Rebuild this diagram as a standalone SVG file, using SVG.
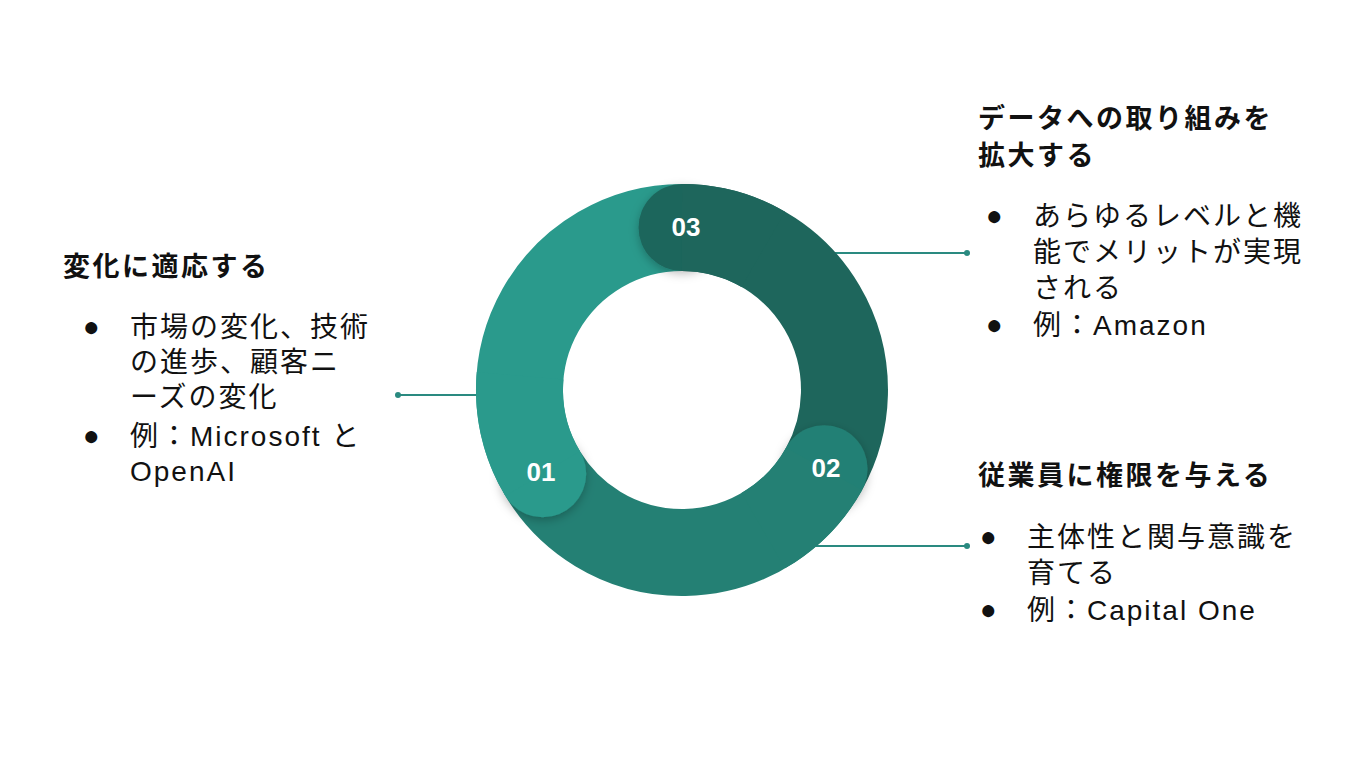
<svg xmlns="http://www.w3.org/2000/svg" width="1365" height="768" viewBox="0 0 1365 768">
<defs>
<filter id="sh" x="-50%" y="-50%" width="200%" height="200%"><feDropShadow dx="0" dy="3" stdDeviation="5" flood-color="#000" flood-opacity="0.25"/></filter>
<style>
.t{font-family:"Liberation Sans","Noto Sans CJK JP",sans-serif;fill:#111}
.h{font-size:27px;font-weight:bold;letter-spacing:2.5px}
.b{font-size:28px;letter-spacing:2px}
.n{font-family:"Liberation Sans",sans-serif;font-size:26px;font-weight:bold;fill:#fff;text-anchor:middle}
.c{stroke:#2a8a80;stroke-width:2;fill:none}
</style>
</defs>
<rect width="1365" height="768" fill="#fff"/>
<g id="connectors">
<line class="c" x1="398" y1="395" x2="480" y2="395"/><circle cx="398" cy="395" r="3" fill="#2a8a80"/>
<line class="c" x1="835" y1="253" x2="967" y2="253"/><circle cx="967" cy="253" r="3" fill="#2a8a80"/>
<line class="c" x1="815" y1="546" x2="967" y2="546"/><circle cx="967" cy="546" r="3" fill="#2a8a80"/>
</g>
<g id="ring">
<path d="M542.7 473.7 A162.5 162.5 0 0 1 682 227.5" stroke="#2a9a8c" stroke-width="87" fill="none"/>
<path d="M682 227.5 A162.5 162.5 0 0 1 824.1 468.8" stroke="#1e665c" stroke-width="87" fill="none"/>
<path d="M824.1 468.8 A162.5 162.5 0 0 1 542.7 473.7" stroke="#248074" stroke-width="87" fill="none"/>
<circle cx="682" cy="227.5" r="43.5" fill="#1e665c" filter="url(#sh)"/>
<circle cx="824.1" cy="468.8" r="43.5" fill="#248074" filter="url(#sh)"/>
<circle cx="542.7" cy="473.7" r="43.5" fill="#2a9a8c" filter="url(#sh)"/>
<path d="M682 227.5 A162.5 162.5 0 0 1 763.25 249.3" stroke="#1e665c" stroke-width="87" fill="none"/>
<path d="M824.1 468.8 A162.5 162.5 0 0 1 763.25 530.7" stroke="#248074" stroke-width="87" fill="none"/>
<path d="M542.7 473.7 A162.5 162.5 0 0 1 520.1 375.8" stroke="#2a9a8c" stroke-width="87" fill="none"/>
<text class="n" x="686" y="236">03</text>
<text class="n" x="826" y="477">02</text>
<text class="n" x="541" y="481">01</text>
</g>
<g id="node1" class="t">
<text class="h" x="63" y="276">変化に適応する</text>
<text class="b" x="83" y="336">●</text>
<text class="b" x="130" y="337">市場の変化、技術</text>
<text class="b" x="130" y="372">の進歩、顧客ニ</text>
<text class="b" x="130" y="407">ーズの変化</text>
<text class="b" x="83" y="445">●</text>
<text class="b" x="130" y="446">例：Microsoft と</text>
<text class="b" x="130" y="481">OpenAI</text>
</g>
<g id="node3" class="t">
<text class="h" x="978" y="128">データへの取り組みを</text>
<text class="h" x="978" y="165">拡大する</text>
<text class="b" x="986" y="225">●</text>
<text class="b" x="1033" y="226">あらゆるレベルと機</text>
<text class="b" x="1033" y="262">能でメリットが実現</text>
<text class="b" x="1033" y="298">される</text>
<text class="b" x="986" y="334">●</text>
<text class="b" x="1033" y="335">例：Amazon</text>
</g>
<g id="node2" class="t">
<text class="h" x="978" y="485">従業員に権限を与える</text>
<text class="b" x="980" y="546">●</text>
<text class="b" x="1027" y="547">主体性と関与意識を</text>
<text class="b" x="1027" y="583">育てる</text>
<text class="b" x="980" y="619">●</text>
<text class="b" x="1027" y="620">例：Capital One</text>
</g>
</svg>
